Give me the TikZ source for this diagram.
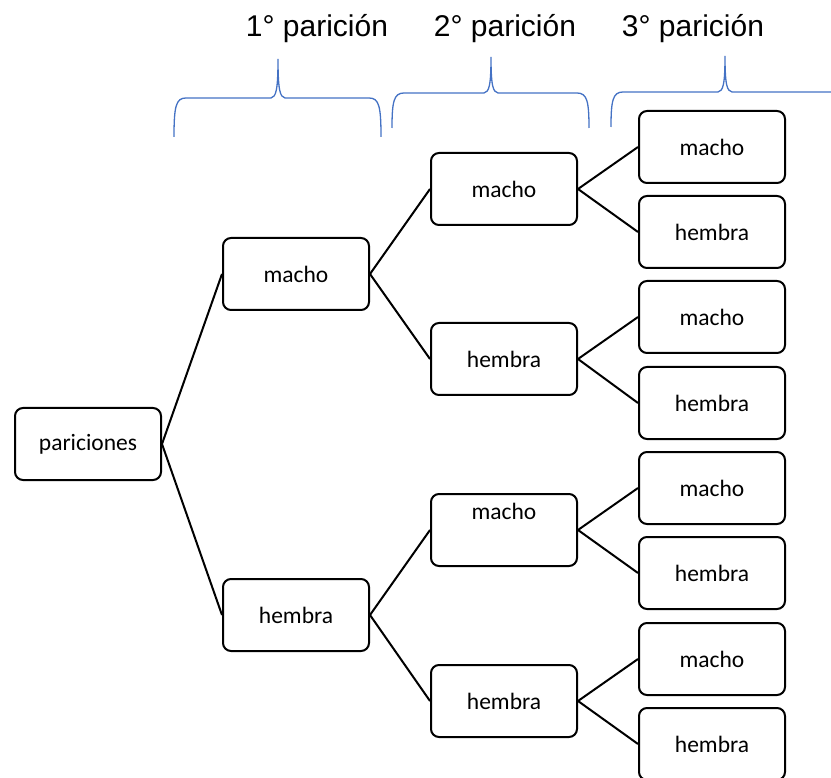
\documentclass[tikz,border=0pt]{standalone}
\usepackage{fontspec}
\setmainfont{Carlito}
\newfontfamily\arialfont{Liberation Sans}
\usetikzlibrary{positioning}
\definecolor{azul}{RGB}{68,114,196}
\tikzset{
  caja/.style={draw,line width=2pt,rounded corners=8pt,minimum width=146pt,minimum height=72pt,inner sep=2pt,font=\fontsize{23.5}{28}\selectfont},
  rama/.style={line width=2pt},
  llave/.style={azul,line width=1.3pt},
  titulo/.style={font=\arialfont\fontsize{30}{36}\selectfont,anchor=base}
}

\begin{document}
\begin{tikzpicture}[x=1pt,y=-1pt]
  \clip (0,0) rectangle (831,778);
  % titulos y llaves
  \node[titulo] (t1) at (317,37) {1° parición};
  \node[titulo] (t2) at (505,37) {2° parición};
  \node[titulo] (t3) at (693,37) {3° parición};
  \draw[llave] (174,137) .. controls (174,106) and (176,98) .. (186,98) -- (271,98) .. controls (276,97) and (278,90) .. (278,59) .. controls (278,90) and (280,97) .. (285,98) -- (369,98) .. controls (379,98) and (381,106) .. (381,137);
  \draw[llave] (392,128) .. controls (392,101) and (394,93) .. (404,93) -- (484,93) .. controls (489,92) and (491,86) .. (491,57) .. controls (491,86) and (493,92) .. (498,93) -- (577,93) .. controls (587,93) and (589,101) .. (589,128);
  \draw[llave] (611,127) .. controls (611,100) and (613,92) .. (623,92) -- (718,92) .. controls (723,91) and (725,85) .. (725,56) .. controls (725,85) and (727,91) .. (732,92) -- (840,92);
  % cajas
  \node[caja] (par) at (88,444) {pariciones};
  \node[caja] (m) at (296,274) {macho};
  \node[caja] (h) at (296,615) {hembra};
  \node[caja] (mm) at (504,189) {macho};
  \node[caja] (mh) at (504,359) {hembra};
  \node[caja,text height=16pt,text depth=38pt] (hm) at (504,530) {macho};
  \node[caja] (hh) at (504,701) {hembra};
  \node[caja] (mmm) at (712,147) {macho};
  \node[caja] (mmh) at (712,232) {hembra};
  \node[caja] (mhm) at (712,317) {macho};
  \node[caja] (mhh) at (712,403) {hembra};
  \node[caja] (hmm) at (712,488) {macho};
  \node[caja] (hmh) at (712,573) {hembra};
  \node[caja] (hhm) at (712,659) {macho};
  \node[caja] (hhh) at (712,744) {hembra};
  % ramas
  \draw[rama] (par.east) -- (m.west);
  \draw[rama] (par.east) -- (h.west);
  \draw[rama] (m.east) -- (mm.west);
  \draw[rama] (m.east) -- (mh.west);
  \draw[rama] (h.east) -- (hm.west);
  \draw[rama] (h.east) -- (hh.west);
  \draw[rama] (mm.east) -- (mmm.west);
  \draw[rama] (mm.east) -- (mmh.west);
  \draw[rama] (mh.east) -- (mhm.west);
  \draw[rama] (mh.east) -- (mhh.west);
  \draw[rama] (hm.east) -- (hmm.west);
  \draw[rama] (hm.east) -- (hmh.west);
  \draw[rama] (hh.east) -- (hhm.west);
  \draw[rama] (hh.east) -- (hhh.west);
\end{tikzpicture}
\end{document}
